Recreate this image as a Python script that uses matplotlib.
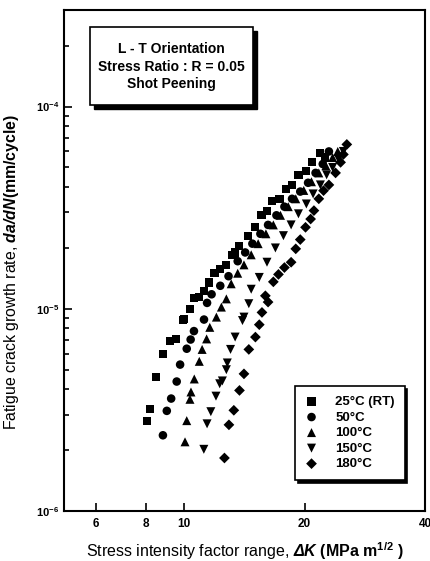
import matplotlib
matplotlib.use("Agg")
import matplotlib.pyplot as plt
from matplotlib.patches import Rectangle

plt.rcParams["font.family"] = ["Liberation Sans", "DejaVu Sans"]
plt.rcParams["mathtext.fontset"] = "custom"
plt.rcParams["mathtext.rm"] = "Liberation Sans"
plt.rcParams["mathtext.bf"] = "Liberation Sans:bold"
plt.rcParams["mathtext.it"] = "Liberation Sans:italic"
plt.rcParams["mathtext.bfit"] = "Liberation Sans:bold:italic"

# 25°C (RT)
dk_25 = [8.07, 8.22, 8.5, 8.85, 9.2, 9.55, 9.9, 10.0, 10.35, 10.55, 10.9, 11.2,
         11.5, 11.9, 12.3, 12.7, 13.2, 13.4, 13.7, 14.4, 15.0, 15.6, 16.1, 16.6,
         17.3, 18.0, 18.6, 19.3, 20.2, 20.9, 21.8, 22.5]
da_25 = [2.8e-6, 3.2e-6, 4.6e-6, 6.0e-6, 6.9e-6, 7.1e-6, 8.8e-6, 8.9e-6, 1.0e-5,
         1.13e-5, 1.15e-5, 1.22e-5, 1.35e-5, 1.5e-5, 1.58e-5, 1.64e-5, 1.85e-5,
         1.9e-5, 2.05e-5, 2.3e-5, 2.54e-5, 2.9e-5, 3.06e-5, 3.43e-5, 3.5e-5,
         3.9e-5, 4.1e-5, 4.6e-5, 4.8e-5, 5.3e-5, 5.9e-5, 5.6e-5]

# 50°C
dk_50 = [8.84, 9.04, 9.27, 9.57, 9.76, 10.14, 10.37, 10.57, 11.2, 11.4, 11.7,
         12.3, 12.9, 13.6, 14.2, 14.8, 15.5, 16.2, 17.0, 17.8, 18.6, 19.5, 20.4,
         21.3, 22.2, 23.0]
da_50 = [2.37e-6, 3.13e-6, 3.6e-6, 4.37e-6, 5.3e-6, 6.35e-6, 7.05e-6, 7.76e-6,
         8.85e-6, 1.07e-5, 1.18e-5, 1.3e-5, 1.45e-5, 1.72e-5, 1.9e-5, 2.1e-5,
         2.35e-5, 2.6e-5, 2.9e-5, 3.2e-5, 3.5e-5, 3.8e-5, 4.2e-5, 4.7e-5, 5.2e-5,
         6.0e-5]

# 100°C
dk_100 = [10.04, 10.14, 10.33, 10.39, 10.59, 10.9, 11.08, 11.37, 11.58, 12.03,
          12.38, 12.74, 13.1, 13.6, 14.1, 14.7, 15.3, 16.0, 16.7, 17.4, 18.2,
          19.0, 19.9, 20.8, 21.7, 22.6, 23.5, 24.2]
da_100 = [2.2e-6, 2.8e-6, 3.57e-6, 3.88e-6, 4.5e-6, 5.5e-6, 6.3e-6, 7.1e-6,
          8.1e-6, 9.1e-6, 1.02e-5, 1.12e-5, 1.33e-5, 1.5e-5, 1.65e-5, 1.85e-5,
          2.1e-5, 2.35e-5, 2.6e-5, 2.9e-5, 3.2e-5, 3.5e-5, 3.85e-5, 4.25e-5,
          4.7e-5, 5.1e-5, 5.6e-5, 6.0e-5]

# 150°C
dk_150 = [11.19, 11.4, 11.65, 12.0, 12.26, 12.45, 12.74, 12.81, 13.05, 13.4,
          13.98, 14.1, 14.5, 14.7, 15.4, 16.1, 16.9, 17.7, 18.5, 19.3, 20.2,
          21.0, 21.9, 22.7, 23.5, 24.3, 25.0]
da_150 = [2.02e-6, 2.7e-6, 3.1e-6, 3.7e-6, 4.26e-6, 4.4e-6, 5.0e-6, 5.4e-6,
          6.3e-6, 7.25e-6, 8.75e-6, 9.1e-6, 1.06e-5, 1.25e-5, 1.43e-5, 1.7e-5,
          2.0e-5, 2.3e-5, 2.6e-5, 2.95e-5, 3.3e-5, 3.7e-5, 4.1e-5, 4.6e-5,
          5.0e-5, 5.5e-5, 6.0e-5]

# 180°C
dk_180 = [12.6, 12.93, 13.3, 13.74, 14.1, 14.5, 15.06, 15.4, 15.64, 15.95, 16.2,
          16.7, 17.2, 17.8, 18.5, 19.0, 19.5, 20.1, 20.7, 21.1, 21.7, 22.3, 23.0,
          23.9, 24.6, 25.0, 25.5]
da_180 = [1.83e-6, 2.67e-6, 3.15e-6, 3.95e-6, 4.77e-6, 6.3e-6, 7.25e-6, 8.35e-6,
          9.6e-6, 1.16e-5, 1.08e-5, 1.36e-5, 1.48e-5, 1.6e-5, 1.7e-5, 1.98e-5,
          2.2e-5, 2.53e-5, 2.78e-5, 3.06e-5, 3.5e-5, 3.84e-5, 4.1e-5, 4.7e-5,
          5.3e-5, 5.8e-5, 6.5e-5]

series = [
    (dk_25, da_25, "s", "25°C (RT)"),
    (dk_50, da_50, "o", "50°C"),
    (dk_100, da_100, "^", "100°C"),
    (dk_150, da_150, "v", "150°C"),
    (dk_180, da_180, "D", "180°C"),
]

x_ticks = [6, 8, 10, 20, 40]
y_ticks = [1e-6, 1e-5, 1e-4]
y_tick_labels = [r"$\mathbf{10^{-6}}$", r"$\mathbf{10^{-5}}$", r"$\mathbf{10^{-4}}$"]
info_lines = ["L - T Orientation", "Stress Ratio : R = 0.05", "Shot Peening"]

fig = plt.figure(figsize=(4.31, 5.61), dpi=100)
ax = fig.add_axes([0.1485, 0.089, 0.8375, 0.893])

sizes = {"s": 34, "o": 38, "^": 42, "v": 42, "D": 30}
for dk, da, m, lab in series:
    ax.scatter(dk, da, marker=m, s=sizes[m], c="black", edgecolors="none",
               label=lab, zorder=3)

ax.set_xscale("log")
ax.set_yscale("log")
ax.set_xlim(5, 40)
ax.set_ylim(1e-6, 3e-4)

ax.set_xticks(x_ticks)
ax.set_xticklabels([str(t) for t in x_ticks], fontweight="bold", fontsize=8.5)
ax.xaxis.set_minor_locator(matplotlib.ticker.NullLocator())
ax.set_yticks(y_ticks)
ax.set_yticklabels(y_tick_labels, fontsize=8)
ax.tick_params(which="both", direction="in", top=False, right=False, width=1.2)
ax.tick_params(which="major", length=6)
ax.tick_params(which="minor", length=3.5)
ax.tick_params(axis="x", pad=5)
for sp in ax.spines.values():
    sp.set_linewidth(1.5)

ax.set_xlabel(r"Stress intensity factor range, $\mathbfit{\Delta K}$ $\mathbf{(MPa\ m^{1/2}\ )}$",
              fontsize=11.5)
ax.set_ylabel(r"Fatigue crack growth rate, $\mathbfit{da/dN}$$\mathbf{(mm/cycle)}$",
              fontsize=11.4)
ax.yaxis.set_label_coords(-0.119, 0.477)
ax.xaxis.set_label_coords(0.5, -0.058)

# info box with drop shadow
bx0, by0, bw, bh = 0.072, 0.810, 0.452, 0.156
ax.add_patch(Rectangle((bx0 + 0.011, by0 - 0.008), bw, bh, transform=ax.transAxes,
                       facecolor="black", edgecolor="black", zorder=4))
ax.add_patch(Rectangle((bx0, by0), bw, bh, transform=ax.transAxes,
                       facecolor="white", edgecolor="black", linewidth=1.2, zorder=5))
for yy, line in zip([0.922, 0.887, 0.852], info_lines):
    ax.text(bx0 + bw / 2, yy, line, transform=ax.transAxes, ha="center",
            va="center", fontsize=10, fontweight="bold", zorder=6)

leg = ax.legend(loc="lower left", bbox_to_anchor=(0.640, 0.062), borderaxespad=0,
                frameon=True, fancybox=False, shadow={"color": "black", "alpha": 1},
                prop={"weight": "bold", "size": 9.5}, handlelength=1.0,
                handletextpad=1.3, labelspacing=0.25, borderpad=0.75,
                scatterpoints=1)
leg.get_frame().set_edgecolor("black")
leg.get_frame().set_linewidth(1.2)

fig.savefig("out.png", dpi=100)
